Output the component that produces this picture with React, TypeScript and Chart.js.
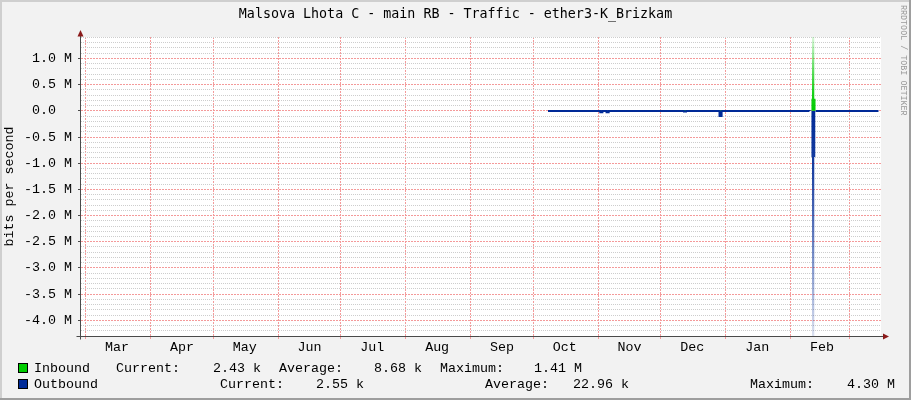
import React, { useEffect, useRef } from 'react';
import { Chart, registerables } from 'chart.js';

Chart.register(...registerables);

// ---- data ----
const chartTitle = 'Malsova Lhota C - main RB - Traffic - ether3-K_Brizkam';
const yAxisTitle = 'bits per second';
const watermark = 'RRDTOOL / TOBI OETIKER';

// x axis in days since 1 March (previous year)
const monthNames = ['Mar', 'Apr', 'May', 'Jun', 'Jul', 'Aug', 'Sep', 'Oct', 'Nov', 'Dec', 'Jan', 'Feb'];
const monthStartDays = [0, 31, 61, 92, 122, 153, 184, 214, 245, 275, 306, 337, 365];
const monthLabelOffsetDays = 15;
const xMinDay = -2.25;
const xMaxDay = 380.2;

const yMinBps = -4.3e6;
const yMaxBps = 1.41e6;
const yMinorStep = 1e5;
const yMajorEvery = 5;

const sampleDays = [221, 228, 235, 241, 246, 247, 249, 250, 256, 263, 270, 277, 286, 287, 294, 303, 304, 310, 318, 326, 333, 340, 346, 346.95, 347.2, 348.3, 348.9, 355, 362, 369, 375, 379];
const inboundBps = [2100, 2600, 2300, 2800, 3100, 2500, 2900, 2400, 2700, 2200, 2600, 3000, 4500, 2500, 2300, 6000, 2600, 2400, 2800, 2500, 2700, 2300, 2600, 230000, 1410000, 230000, 3200, 2600, 2400, 2500, 2430, 2430];
const outboundBps = [2400, 2900, 2700, 3300, 25000, 2800, 25000, 2600, 2900, 2500, 2800, 3100, 15000, 2700, 2600, 100000, 2800, 2600, 3000, 2700, 2900, 2500, 2900, 880000, 4300000, 880000, 3500, 2800, 2600, 2700, 2550, 2550];

const seriesNames = ['Inbound', 'Outbound'];
const seriesColors = ['#00CC00', '#002A97'];
const currentValues = ['2.43 k', '2.55 k'];
const averageValues = ['8.68 k', '22.96 k'];
const maximumValues = ['1.41 M', '4.30 M'];

// ---- styles ----
const MONO = "'Liberation Mono', 'DejaVu Sans Mono', monospace";
const TITLE_FONT = "'DejaVu Sans Mono', monospace";
const MAJOR_GRID = '#F49A9A';
const MINOR_GRID = '#CDCDCD';

const legendRowY = [368, 384];
const legendCols = [
  [116, 213, 279, 374, 440, 534],
  [220, 316, 485, 573, 750, 847],
];

const rrdDecor = {
  id: 'rrdDecor',
  beforeDraw(chart: any) {
    const { ctx, chartArea: a, width, height } = chart;
    ctx.save();
    ctx.fillStyle = '#F2F2F2';
    ctx.fillRect(0, 0, width, height);
    ctx.fillStyle = '#CFCFCF';
    ctx.fillRect(0, 0, width, 2);
    ctx.fillRect(0, 0, 2, height);
    ctx.fillStyle = '#9E9E9E';
    ctx.fillRect(width - 2, 0, 2, height);
    ctx.fillRect(0, height - 2, width, 2);
    ctx.fillStyle = '#FFFFFF';
    ctx.fillRect(a.left, a.top, a.right - a.left, a.bottom - a.top);
    ctx.restore();
  },
  afterDatasetsDraw(chart: any) {
    const { ctx, chartArea: a } = chart;
    const x0 = Math.round(a.left) - 0.5;
    const yb = Math.round(a.bottom) + 0.5;
    ctx.save();
    ctx.strokeStyle = '#4A4A4A';
    ctx.lineWidth = 1;
    ctx.beginPath();
    ctx.moveTo(x0, yb + 3);
    ctx.lineTo(x0, a.top - 1);
    ctx.moveTo(x0 - 4, yb);
    ctx.lineTo(a.right + 2, yb);
    ctx.stroke();
    ctx.fillStyle = '#8B1A1A';
    ctx.beginPath();
    ctx.moveTo(x0, a.top - 7);
    ctx.lineTo(x0 - 3, a.top - 0.5);
    ctx.lineTo(x0 + 3, a.top - 0.5);
    ctx.closePath();
    ctx.fill();
    ctx.beginPath();
    ctx.moveTo(a.right + 8, yb);
    ctx.lineTo(a.right + 2, yb - 3);
    ctx.lineTo(a.right + 2, yb + 3);
    ctx.closePath();
    ctx.fill();
    ctx.restore();
  },
  afterDraw(chart: any) {
    const { ctx, width } = chart;
    ctx.save();
    ctx.font = `13.33px ${MONO}`;
    ctx.textBaseline = 'middle';
    ctx.textAlign = 'left';
    for (let r = 0; r < seriesNames.length; r++) {
      const y = legendRowY[r];
      ctx.fillStyle = seriesColors[r];
      ctx.fillRect(18, y - 5, 10, 10);
      ctx.strokeStyle = '#000000';
      ctx.lineWidth = 1;
      ctx.strokeRect(18.5, y - 4.5, 9, 9);
      ctx.fillStyle = '#000000';
      ctx.fillText(seriesNames[r], 34, y);
      const cols = legendCols[r];
      ctx.fillText('Current:', cols[0], y);
      ctx.fillText(currentValues[r], cols[1], y);
      ctx.fillText('Average:', cols[2], y);
      ctx.fillText(averageValues[r], cols[3], y);
      ctx.fillText('Maximum:', cols[4], y);
      ctx.fillText(maximumValues[r], cols[5], y);
    }
    // watermark
    ctx.translate(width - 8, 5);
    ctx.rotate(Math.PI / 2);
    ctx.font = `8.4px ${MONO}`;
    ctx.fillStyle = '#9A9A9A';
    ctx.textBaseline = 'middle';
    ctx.fillText(watermark, 0, 0);
    ctx.restore();
  },
};

function gradient(chart: any, toValue: number, rgb: string) {
  const area = chart.chartArea;
  if (!area) return `rgb(${rgb})`;
  const y = chart.scales.y;
  const g = chart.ctx.createLinearGradient(0, y.getPixelForValue(0), 0, y.getPixelForValue(toValue));
  g.addColorStop(0, `rgba(${rgb},1)`);
  g.addColorStop(0.25, `rgba(${rgb},0.9)`);
  g.addColorStop(0.6, `rgba(${rgb},0.58)`);
  g.addColorStop(1, `rgba(${rgb},0.14)`);
  return g;
}

const isMajorY = (c: any) => !!c.tick && Math.round(c.tick.value / yMinorStep) % yMajorEvery === 0;
const isMonthStart = (c: any) => !!c.tick && monthStartDays.includes(c.tick.value);

export default function App() {
  const ref = useRef<HTMLCanvasElement | null>(null);
  useEffect(() => {
    if (!ref.current) return;
    const chart = new Chart(ref.current, {
      type: 'line',
      data: {
        datasets: [
          {
            label: seriesNames[0],
            data: sampleDays.map((d, i) => ({ x: d, y: inboundBps[i] })),
            xAxisID: 'x',
            yAxisID: 'y',
            stepped: 'before',
            fill: 'origin',
            backgroundColor: (c: any) => gradient(c.chart, yMaxBps, '0,204,0'),
            borderWidth: 0,
            borderColor: 'rgba(0,0,0,0)',
            pointRadius: 0,
          },
          {
            label: seriesNames[1],
            data: sampleDays.map((d, i) => ({ x: d, y: -outboundBps[i] })),
            xAxisID: 'x',
            yAxisID: 'y',
            stepped: 'before',
            fill: 'origin',
            backgroundColor: (c: any) => gradient(c.chart, yMinBps, '0,42,151'),
            borderWidth: 2,
            borderColor: '#002A97',
            pointRadius: 0,
            segment: {
              borderColor: (c: any) =>
                Math.max(Math.abs(c.p0.parsed.y), Math.abs(c.p1.parsed.y)) > 200000 ? 'rgba(0,0,0,0)' : undefined,
            },
          },
        ],
      } as any,
      options: {
        animation: false,
        responsive: false,
        devicePixelRatio: 1,
        layout: { padding: 0 },
        plugins: {
          legend: { display: false },
          tooltip: { enabled: false },
          title: {
            display: true,
            text: chartTitle,
            color: '#000000',
            font: { family: TITLE_FONT, size: 13.33, weight: 'normal' },
            padding: { top: 7, bottom: 14 },
          },
        },
        scales: {
          x: {
            type: 'linear',
            min: xMinDay,
            max: xMaxDay,
            afterBuildTicks: (scale: any) => {
              const t: any[] = [];
              monthStartDays.forEach((d, i) => {
                t.push({ value: d });
                if (i < monthNames.length) t.push({ value: d + monthLabelOffsetDays });
              });
              scale.ticks = t;
            },
            afterFit: (scale: any) => {
              scale.height = 64;
            },
            ticks: {
              autoSkip: false,
              maxRotation: 0,
              padding: 0,
              color: '#000000',
              font: { family: MONO, size: 13.33 },
              callback: (v: any) => {
                const i = monthStartDays.indexOf(Number(v) - monthLabelOffsetDays);
                return i >= 0 && i < monthNames.length ? monthNames[i] : '';
              },
            },
            grid: {
              drawTicks: true,
              tickLength: 3,
              lineWidth: 1,
              color: (c: any) => (isMonthStart(c) ? MAJOR_GRID : 'rgba(0,0,0,0)'),
              tickColor: (c: any) => (isMonthStart(c) ? MAJOR_GRID : 'rgba(0,0,0,0)'),
            },
            border: { display: false, dash: [2, 1] },
          },
          y: {
            type: 'linear',
            position: 'left',
            min: yMinBps,
            max: yMaxBps,
            afterBuildTicks: (scale: any) => {
              const t: any[] = [];
              for (let k = Math.ceil(yMinBps / yMinorStep); k * yMinorStep <= yMaxBps; k++) t.push({ value: k * yMinorStep });
              scale.ticks = t;
            },
            afterFit: (scale: any) => {
              scale.width = 81;
            },
            ticks: {
              autoSkip: false,
              padding: 6,
              color: '#000000',
              font: { family: MONO, size: 13.33 },
              callback: (v: any) => {
                const k = Math.round(Number(v) / yMinorStep);
                if (k % yMajorEvery !== 0) return '';
                if (k === 0) return '0.0  ';
                return (Number(v) / 1e6).toFixed(1) + ' M';
              },
            },
            grid: {
              drawTicks: true,
              tickLength: 3,
              lineWidth: 1,
              color: (c: any) => (isMajorY(c) ? MAJOR_GRID : MINOR_GRID),
              tickColor: (c: any) => (isMajorY(c) ? '#4A4A4A' : 'rgba(0,0,0,0)'),
            },
            border: { display: false, dash: (c: any) => (isMajorY(c) ? [2, 1] : [1, 1]) },
            title: {
              display: true,
              text: yAxisTitle,
              color: '#000000',
              font: { family: MONO, size: 13.33 },
              padding: { top: 1.5, bottom: 0 },
            },
          },
          yPad: {
            type: 'linear',
            position: 'right',
            display: true,
            min: 0,
            max: 1,
            afterFit: (scale: any) => {
              scale.width = 30;
            },
            ticks: { display: false },
            grid: { display: false, drawTicks: false },
            border: { display: false },
          },
        },
      } as any,
      plugins: [rrdDecor],
    });
    return () => chart.destroy();
  }, []);
  return (
    <div style={{ position: 'fixed', left: 0, top: 0, width: 911, height: 400 }}>
      <canvas ref={ref} width={911} height={400} style={{ display: 'block' }} />
    </div>
  );
}
